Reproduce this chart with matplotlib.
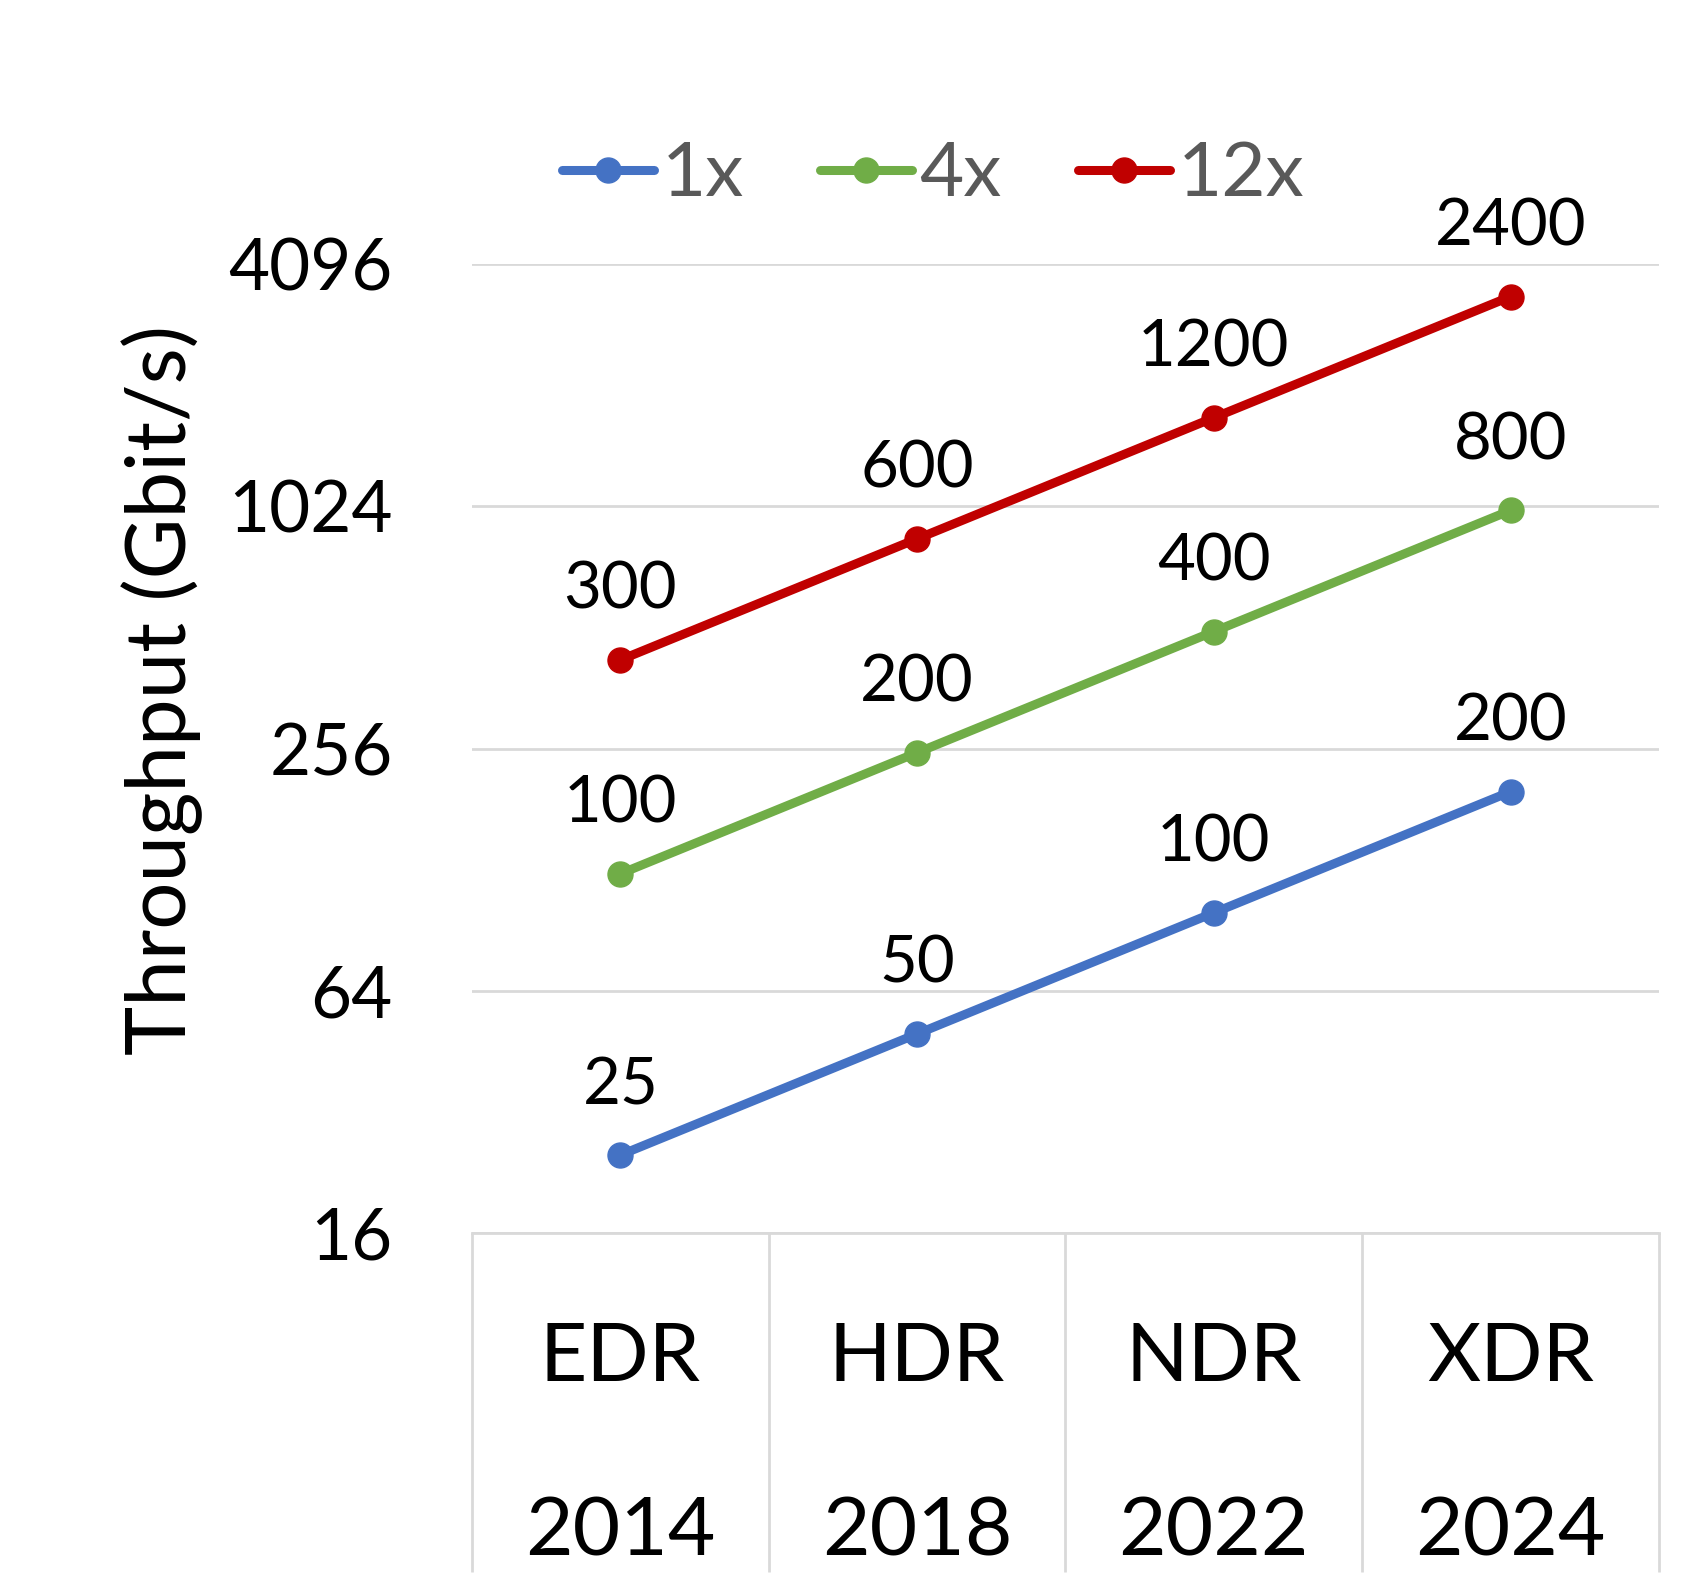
import numpy as np
import matplotlib
matplotlib.use('Agg')
import matplotlib.pyplot as plt

plt.rcParams['font.family'] = ['Lato', 'DejaVu Sans']

# ── Дані ─────────────────────────────────────────────────────────────────────
generations = ['EDR', 'HDR', 'NDR', 'XDR']
years       = ['2014', '2018', '2022', '2024']
series_names = ['1x', '4x', '12x']
tp_1x  = [25, 50, 100, 200]
tp_4x  = [100, 200, 400, 800]
tp_12x = [300, 600, 1200, 2400]
yticks = [16, 64, 256, 1024, 4096]

C = dict(s1='#4472C4', s4='#70AD47', s12='#C00000',
         grid='#D9D9D9', legend='#595959', text='#000000')

# лінійна діаграма з накопиченням (як в Excel)
raw = np.array([tp_1x, tp_4x, tp_12x], dtype=float)
stacked = np.cumsum(raw, axis=0)
colors = [C['s1'], C['s4'], C['s12']]

W, H = 1691, 1576
fig = plt.figure(figsize=(W / 100, H / 100), dpi=100)
fig.patch.set_facecolor('white')

ax_l, ax_r = 472 / W, 1659 / W
ax_t, ax_b = 1 - 264 / H, 1 - 1233 / H
ax = fig.add_axes([ax_l, ax_b, ax_r - ax_l, ax_t - ax_b])

x = np.arange(len(generations))
for name, vals, ys, col in zip(series_names, raw, stacked, colors):
    ax.plot(x, ys, color=col, linewidth=6.5, marker='o', markersize=18,
            solid_capstyle='round', label=name, zorder=3, clip_on=False)
    for xi, yi, v in zip(x, ys, vals):
        ax.annotate(f'{int(v)}', (xi, yi), xytext=(0, 50),
                    textcoords='offset points', ha='center', va='center',
                    fontsize=47, color=C['text'])

ax.set_yscale('log', base=2)
ax.set_ylim(16, 4096)
ax.set_yticks(yticks)
ax.set_yticklabels([str(t) for t in yticks])
ax.yaxis.set_minor_locator(plt.NullLocator())
ax.set_xlim(-0.5, len(generations) - 0.5)
ax.set_xticks([])

ax.tick_params(axis='y', length=0, pad=57, labelsize=51, labelcolor=C['text'])
ax.grid(axis='y', color=C['grid'], linewidth=2)
ax.set_axisbelow(True)
for side in ['left', 'right', 'top']:
    ax.spines[side].set_visible(False)
ax.spines['bottom'].set_color(C['grid'])
ax.spines['bottom'].set_linewidth(2)

# ─ Таблиця категорій під віссю ─
trans = ax.get_xaxis_transform()
ax_h_px = 1233 - 264
bottom_frac = -(1572 - 1233) / ax_h_px
ax.vlines(np.arange(len(generations) + 1) - 0.5, bottom_frac, 0,
          transform=trans, color=C['grid'], linewidth=2, clip_on=False)
for xi, g, yr in zip(x, generations, years):
    ax.text(xi, -(1358 - 1233) / ax_h_px, g, transform=trans,
            ha='center', va='center', fontsize=59, color=C['text'])
    ax.text(xi, -(1532 - 1233) / ax_h_px, yr, transform=trans,
            ha='center', va='center', fontsize=59, color=C['text'])

fig.text(162 / W, 1 - 690 / H, 'Throughput (Gbit/s)', rotation=90,
         ha='center', va='center', fontsize=60, color=C['text'])

leg = fig.legend(loc='center', bbox_to_anchor=(933 / W, 1 - 175 / H),
                 ncol=3, frameon=False, fontsize=55, handlelength=1.2,
                 handletextpad=0.1, columnspacing=1.0, numpoints=1)
for t in leg.get_texts():
    t.set_color(C['legend'])

fig.savefig('out.png', dpi=100, facecolor='white')
